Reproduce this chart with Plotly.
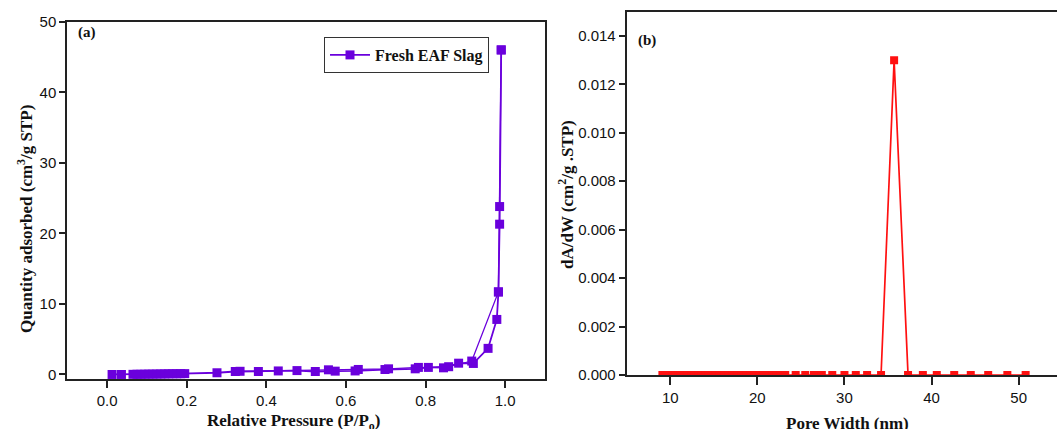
import plotly.graph_objects as go

W, H = 1057, 429

# Panel (a): N2 isotherm, Fresh EAF Slag
ads_p = [0.0125, 0.036, 0.065, 0.075, 0.085, 0.095, 0.105, 0.115, 0.125, 0.135, 0.145,
         0.155, 0.165, 0.175, 0.185, 0.195, 0.276, 0.322, 0.380, 0.430, 0.477, 0.523,
         0.573, 0.623, 0.698, 0.774, 0.807, 0.858, 0.883, 0.920, 0.957, 0.979, 0.983,
         0.986, 0.990]
ads_v = [0.0, 0.0, 0.02, 0.03, 0.03, 0.04, 0.05, 0.05, 0.06, 0.07, 0.08,
         0.09, 0.10, 0.10, 0.11, 0.12, 0.24, 0.42, 0.42, 0.50, 0.55, 0.42,
         0.47, 0.50, 0.70, 0.80, 1.00, 1.10, 1.60, 1.56, 3.70, 7.80, 11.7,
         21.3, 46.0]
des_p = [0.990, 0.986, 0.983, 0.916, 0.845, 0.782, 0.707, 0.631, 0.556, 0.334]
des_v = [46.0, 23.8, 11.7, 1.90, 0.94, 1.00, 0.80, 0.71, 0.66, 0.45]

# Panel (b): pore size distribution
pore_w = [9.1, 9.4, 9.7, 10.0, 10.3, 10.6, 10.9, 11.2, 11.6, 12.0, 12.4, 12.8, 13.2,
          13.6, 14.0, 14.4, 14.8, 15.2, 15.7, 16.2, 16.7, 17.2, 17.7, 18.2, 18.7,
          19.2, 19.7, 20.2, 20.7, 21.2, 21.7, 22.2, 22.7, 23.2, 24.4, 25.5, 26.5,
          27.4, 28.6, 30.0, 31.3, 32.6, 34.2, 35.7, 37.3, 39.0, 40.6, 42.6, 44.5,
          46.5, 48.7, 50.8]
dadw = [0.0] * 43 + [0.013] + [0.0] * 8

purple = "#6A00DC"
red = "#FF1010"
axc = "#222222"
tickfont = dict(family="Arial, Liberation Sans", size=15, color="#111")
serif = "Times New Roman, Liberation Serif"

fig = go.Figure()
fig.add_trace(go.Scatter(x=des_p, y=des_v, mode="lines+markers", showlegend=False,
                         line=dict(color=purple, width=1.3),
                         marker=dict(symbol="square", size=9, color=purple),
                         xaxis="x", yaxis="y", cliponaxis=False))
fig.add_trace(go.Scatter(x=ads_p, y=ads_v, mode="lines+markers", name="<b>Fresh EAF Slag</b>",
                         line=dict(color=purple, width=1.8),
                         marker=dict(symbol="square", size=9, color=purple),
                         xaxis="x", yaxis="y", cliponaxis=False))
fig.add_trace(go.Scatter(x=pore_w, y=dadw, mode="lines+markers", showlegend=False,
                         line=dict(color=red, width=1.7),
                         marker=dict(symbol="square", size=8, color=red),
                         xaxis="x2", yaxis="y2"))

def px(x):
    return x / W

def py(y):
    return 1 - y / H

common = dict(showgrid=False, zeroline=False, showline=True, linecolor=axc, linewidth=2,
              ticks="outside", tickcolor=axc, tickwidth=1.5, tickfont=tickfont,
              automargin=False)

fig.update_layout(
    width=W, height=H, margin=dict(l=0, r=0, t=0, b=0),
    paper_bgcolor="white", plot_bgcolor="white",
    xaxis=dict(domain=[px(67.3), px(545)], range=[-0.1, 1.1], tickvals=[0, 0.2, 0.4, 0.6, 0.8, 1.0],
               ticktext=["0.0", "0.2", "0.4", "0.6", "0.8", "1.0"], ticklen=7, mirror=True,
               anchor="y", **common),
    yaxis=dict(domain=[py(378.7), py(21.7)], range=[-0.6, 50], tickvals=[0, 10, 20, 30, 40, 50],
               ticklen=6, mirror=True, anchor="x", **common),
    xaxis2=dict(domain=[px(626.7), 1.0], range=[5, 54.4], tickvals=[10, 20, 30, 40, 50],
                ticklen=8, mirror=True, anchor="y2", **common),
    yaxis2=dict(domain=[py(375), py(11.7)], range=[0, 0.015],
                tickvals=[0, 0.002, 0.004, 0.006, 0.008, 0.010, 0.012, 0.014],
                ticktext=["0.000", "0.002", "0.004", "0.006", "0.008", "0.010", "0.012", "0.014"],
                ticklen=6, mirror=False, anchor="x2", **common),
    showlegend=True,
    legend=dict(x=px(324), y=py(37), xanchor="left", yanchor="top",
                bgcolor="white", bordercolor="#333", borderwidth=1,
                font=dict(family=serif, size=16, color="#111"),
                itemwidth=40, tracegroupgap=0),
)

ann_font = dict(family=serif, size=17, color="#111")
annotations = [
    dict(text="<b>(a)</b>", x=px(76), y=py(33), xanchor="left", yanchor="middle",
         font=dict(family=serif, size=15, color="#111")),
    dict(text="<b>(b)</b>", x=px(636), y=py(41), xanchor="left", yanchor="middle",
         font=dict(family=serif, size=15, color="#111")),
    dict(text="<b>Quantity adsorbed (cm<sup>3</sup>/g STP)</b>", x=px(25), y=py(219),
         xanchor="center", yanchor="middle", textangle=-90, font=ann_font),
    dict(text="<b>Relative Pressure (P/P<sub>o</sub>)</b>", x=px(293), y=py(409),
         xanchor="center", yanchor="top", font=ann_font),
    dict(text="<b>dA/dW (cm<sup>2</sup>/g .STP)</b>", x=px(566), y=py(195),
         xanchor="center", yanchor="middle", textangle=-90, font=ann_font),
    dict(text="<b>Pore Width (nm)</b>", x=px(847), y=py(412),
         xanchor="center", yanchor="top", font=ann_font),
]
for a in annotations:
    a.update(xref="paper", yref="paper", showarrow=False)
fig.update_layout(annotations=annotations)

fig.write_html("out.html")
